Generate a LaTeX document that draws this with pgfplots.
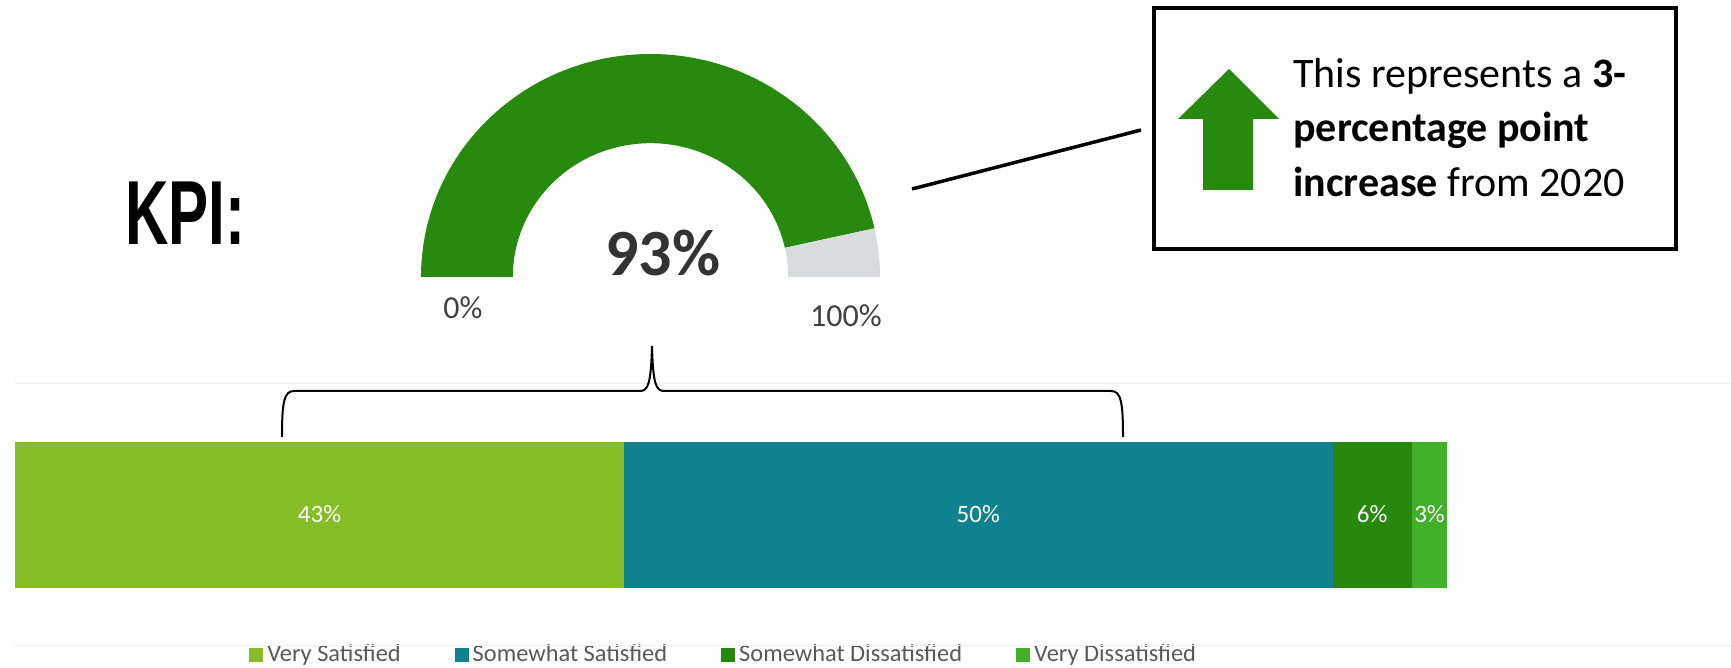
\documentclass[border=0pt]{standalone}
\usepackage{pgfplots}
\pgfplotsset{compat=1.18}
\usepackage{fontspec}
\setmainfont{Carlito}
\newfontfamily\kpifont[FakeStretch=0.66]{Liberation Sans}
\definecolor{vsat}{HTML}{86BC25}
\definecolor{ssat}{HTML}{0E838F}
\definecolor{sdis}{HTML}{26890D}
\definecolor{vdis}{HTML}{43B02A}
\definecolor{ggreen}{HTML}{27890E}
\definecolor{ggray}{HTML}{DADBDD}
\definecolor{darktxt}{HTML}{333333}
\definecolor{midtxt}{HTML}{404040}
\definecolor{legtxt}{HTML}{595959}
\def\kpi{93}
\begin{document}
\begin{tikzpicture}
\useasboundingbox (0,0) rectangle (865.5pt,-334pt);
% ---------- gauge ----------
\begin{axis}[at={(210.5pt,-138.5pt)}, anchor=south west,
  scale only axis, width=229.5pt, height=111.5pt,
  xmin=-1, xmax=1, ymin=0, ymax=1, hide axis, clip=false]
\pgfmathsetmacro\ang{180*(1-\kpi/100)}
\fill[ggreen] (axis cs:-1,0) arc[start angle=180, end angle=\ang, radius=1]
   -- (axis cs:{0.6*cos(\ang)},{0.6*sin(\ang)}) arc[start angle=\ang, end angle=180, radius=0.6] -- cycle;
\fill[ggray] (axis cs:{cos(\ang)},{sin(\ang)}) arc[start angle=\ang, end angle=0, radius=1]
   -- (axis cs:0.6,0) arc[start angle=0, end angle=\ang, radius=0.6] -- cycle;
\end{axis}
% ---------- stacked bar ----------
\begin{axis}[at={(7.5pt,-322.5pt)}, anchor=south west,
  scale only axis, width=850pt, height=130.5pt,
  xmin=0, xmax=120, ymin=-1, ymax=1,
  xbar stacked, bar width=73pt, hide axis, clip=false,
  point meta=explicit symbolic,
  nodes near coords={\pgfplotspointmeta\%},
  every node near coord/.append style={font=\fontsize{12.5}{14}\selectfont, text=white},
  legend columns=4,
  legend style={at={(0.1376,-0.038)}, anchor=west, draw=none, fill=none,
    inner sep=0pt, font=\fontsize{12.2}{14}\selectfont, text=legtxt,
    /tikz/every even column/.append style={column sep=25pt}},
  legend image code/.code={\fill[#1] (0pt,-3.5pt) rectangle (7pt,3.5pt);},
]
\addplot[fill=vsat, draw=none] coordinates {(43,0) [43]};
\addlegendentry{Very Satisfied}
\addplot[fill=ssat, draw=none] coordinates {(50,0) [50]};
\addlegendentry{Somewhat Satisfied}
\addplot[fill=sdis, draw=none] coordinates {(5.6,0) [6]};
\addlegendentry{Somewhat Dissatisfied}
\addplot[fill=vdis, draw=none] coordinates {(2.5,0) [3]};
\addlegendentry{Very Dissatisfied}
\end{axis}
% ---------- annotations (pixel units, y down) ----------
\begin{scope}[x=0.5pt, y=-0.5pt]
\draw[black!6, line width=0.5pt] (15,384) -- (1731,384);
\draw[black!6, line width=0.5pt] (15,645) -- (1731,645);
\node[anchor=base west, inner sep=0pt] at (125,245)
  {\kpifont\bfseries\fontsize{45.5}{50}\selectfont KPI:};
\node[anchor=base, inner sep=0pt, text=darktxt] at (663,276)
  {\bfseries\fontsize{33}{38}\selectfont 93\%};
\node[anchor=base, inner sep=0pt, text=midtxt] at (463,319)
  {\fontsize{16}{19}\selectfont 0\%};
\node[anchor=base, inner sep=0pt, text=midtxt] at (846,327)
  {\fontsize{16}{19}\selectfont 100\%};
\draw[line width=1.75pt] (912,189) -- (1141,130);
\draw[line width=2pt] (1154,8) rectangle (1676,249);
\fill[ggreen] (1229,69) -- (1279,119) -- (1253,119) -- (1253,190) -- (1203,190) -- (1203,119) -- (1178,119) -- cycle;
\begin{scope}[font=\fontsize{21}{27}\selectfont]
\node[anchor=base west, inner sep=0pt] at (1293,88) {This represents a \textbf{3-}};
\node[anchor=base west, inner sep=0pt] at (1293,142) {\textbf{percentage point}};
\node[anchor=base west, inner sep=0pt] at (1293,197) {\textbf{increase} from 2020};
\end{scope}
\draw[line width=1pt] (282,437) .. controls (282,402) and (284,391) .. (294,391)
  -- (640,391) .. controls (648,391) and (651,384) .. (652,346)
  .. controls (653,384) and (656,391) .. (664,391)
  -- (1111,391) .. controls (1121,391) and (1123,402) .. (1123,437);
\end{scope}
\end{tikzpicture}
\end{document}
